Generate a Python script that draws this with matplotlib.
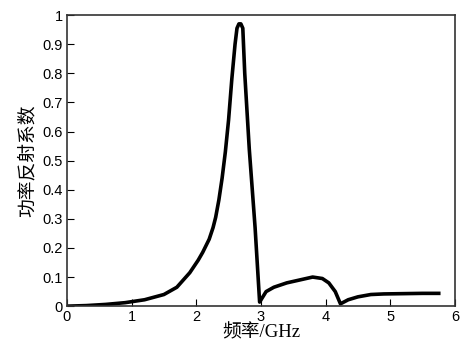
import matplotlib
matplotlib.use('Agg')
import matplotlib.pyplot as plt

# frequency (GHz) and power reflection coefficient
freq = [0.0, 0.3, 0.6, 0.9, 1.2, 1.5, 1.7, 1.9, 2.03, 2.1, 2.2, 2.26, 2.3,
        2.35, 2.4, 2.45, 2.5, 2.55, 2.6, 2.63, 2.66, 2.69, 2.72, 2.75,
        2.82, 2.91, 2.98, 3.08, 3.2, 3.4, 3.6, 3.8, 3.95, 4.05,
        4.15, 4.23, 4.35, 4.5, 4.7, 4.9, 5.2, 5.5, 5.75]
refl = [0.0, 0.002, 0.006, 0.012, 0.022, 0.04, 0.065, 0.115, 0.158, 0.185,
        0.23, 0.27, 0.305, 0.365, 0.44, 0.53, 0.64, 0.78, 0.90, 0.955,
        0.97, 0.97, 0.955, 0.80, 0.54, 0.27, 0.014, 0.05, 0.065,
        0.08, 0.09, 0.10, 0.095, 0.08, 0.05, 0.008, 0.022, 0.032, 0.04,
        0.042, 0.043, 0.044, 0.044]

xticks = [0, 1, 2, 3, 4, 5, 6]
yticks = [0, 0.1, 0.2, 0.3, 0.4, 0.5, 0.6, 0.7, 0.8, 0.9, 1]
ytick_labels = ['0', '0.1', '0.2', '0.3', '0.4', '0.5', '0.6', '0.7', '0.8', '0.9', '1']

plt.rcParams['font.family'] = ['Liberation Sans', 'Noto Sans CJK SC']

fig = plt.figure(figsize=(4.68, 3.44), dpi=100)
ax = fig.add_axes([0.143, 0.110, 0.829, 0.846])

ax.plot(freq, refl, color='black', linewidth=2.6, solid_joinstyle='round')

ax.set_xlim(0, 6)
ax.set_ylim(0, 1)
ax.set_xticks(xticks)
ax.set_yticks(yticks)
ax.set_yticklabels(ytick_labels)
ax.tick_params(direction='in', length=5, width=0.8, labelsize=10.5, pad=3,
               top=False, right=False)
for s in ax.spines.values():
    s.set_linewidth(1.2)
    s.set_color('#333333')

label_font = ['Liberation Serif', 'Noto Sans CJK SC']
ax.set_xlabel('频率/GHz', family=label_font, fontsize=13.5, labelpad=0)
ax.set_ylabel('功率反射系数', family=label_font, fontsize=13.5, labelpad=4)

fig.savefig('out.png', dpi=100)
